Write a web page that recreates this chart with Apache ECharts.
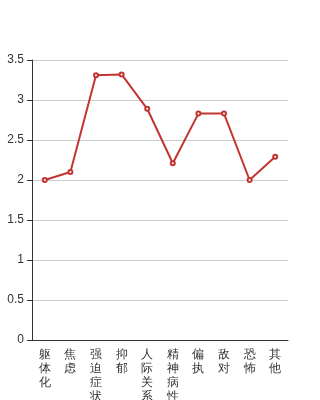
<!DOCTYPE html>
<html><head><meta charset="utf-8">
<script src="https://cdn.jsdelivr.net/npm/echarts@6/dist/echarts.min.js"></script>
<style>html,body{margin:0;padding:0;background:#fff}#c{width:320px;height:400px}</style>
</head><body><div id="c"></div>
<script>
var categories = ['躯体化','焦虑','强迫症状','抑郁','人际关系','精神病性','偏执','敌对','恐怖','其他'];
var values = [2.00, 2.10, 3.31, 3.32, 2.89, 2.21, 2.83, 2.83, 2.00, 2.29];
var chart = echarts.init(document.getElementById('c'));
chart.setOption({
  animation: false,
  grid: {left: 32, right: 32, top: 60, bottom: 60, containLabel: false, outerBoundsMode: 'none'},
  xAxis: {
    type: 'category', data: categories, boundaryGap: true,
    axisLine: {lineStyle: {color: '#333'}},
    axisTick: {lineStyle: {color: '#333'}},
    axisLabel: {interval: 0, color: '#333', fontSize: 12, lineHeight: 14,
      formatter: function(v){ return v.split('').join('\n'); }}
  },
  yAxis: {
    type: 'value', min: 0, max: 3.5, interval: 0.5,
    axisLine: {show: true, lineStyle: {color: '#333'}},
    axisTick: {show: true, lineStyle: {color: '#333'}},
    axisLabel: {color: '#333', fontSize: 12},
    splitLine: {lineStyle: {color: '#ccc'}}
  },
  series: [{
    type: 'line', data: values,
    symbol: 'emptyCircle', symbolSize: 4,
    lineStyle: {color: '#c23531', width: 2},
    itemStyle: {color: '#c23531', borderColor: '#c23531'}
  }]
});
</script></body></html>
